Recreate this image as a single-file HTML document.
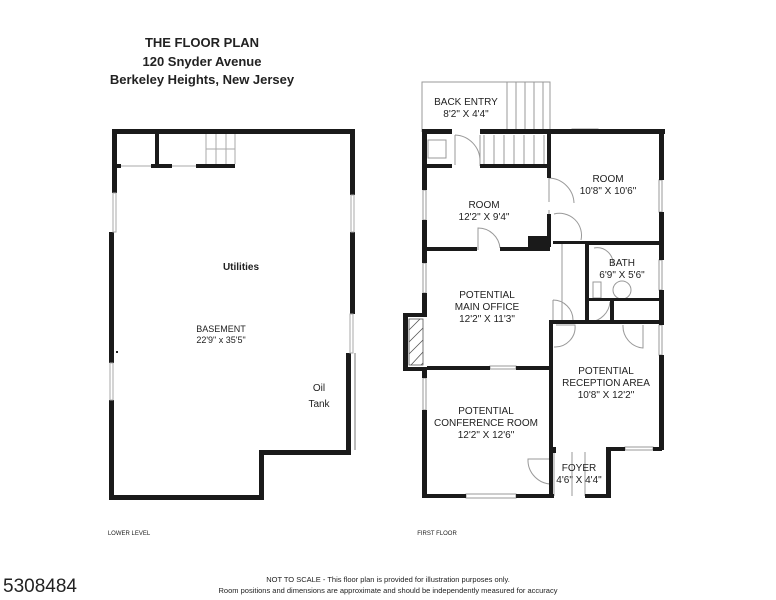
<!DOCTYPE html>
<html><head><meta charset="utf-8"><style>
html,body{margin:0;padding:0;background:#fff;}
svg{display:block;}
text{font-family:"Liberation Sans",sans-serif;fill:#222;}
</style></head><body>
<svg width="776" height="600" viewBox="0 0 776 600" xmlns="http://www.w3.org/2000/svg">
<g font-weight="bold" font-size="13" text-anchor="middle">
<text x="202" y="47">THE FLOOR PLAN</text>
<text x="202" y="66">120 Snyder Avenue</text>
<text x="202" y="84">Berkeley Heights, New Jersey</text>
</g>
<!-- BASEMENT -->
<g fill="#1a1a1a">
<rect x="112" y="129" width="243" height="5"/>
<rect x="112" y="129" width="5" height="64"/>
<rect x="109" y="232" width="5" height="131"/>
<rect x="109" y="400" width="5" height="100"/>
<rect x="109" y="495" width="155" height="5"/>
<rect x="259" y="450" width="5" height="50"/>
<rect x="259" y="450" width="92" height="5"/>
<rect x="346" y="353" width="5" height="102"/>
<rect x="350" y="129" width="5" height="66"/>
<rect x="350" y="232" width="5" height="82"/>
<rect x="155" y="132" width="4" height="35"/>
<rect x="117" y="164" width="4" height="4"/>
<rect x="151" y="164" width="21" height="4"/>
<rect x="196" y="164" width="39" height="4"/>
</g>
<g fill="none" stroke="#aaa" stroke-width="1">
<rect x="113" y="193" width="3" height="39"/>
<rect x="110" y="363" width="3" height="37"/>
<rect x="351" y="195" width="3" height="37"/>
<rect x="350" y="314" width="3" height="39"/>
<line x1="355" y1="353" x2="355" y2="450" stroke="#bbb" stroke-width="2"/>
<line x1="121" y1="166" x2="151" y2="166"/>
<line x1="172" y1="166" x2="196" y2="166"/>
<path d="M206 134V164M216 134V164M226 134V164M206 149H235M235 134V164"/>
</g>
<text x="241" y="270" font-size="10" font-weight="bold" text-anchor="middle">Utilities</text>
<text x="221" y="332" font-size="9" text-anchor="middle">BASEMENT</text>
<text x="221" y="343" font-size="9" text-anchor="middle">22'9" x 35'5"</text>
<text x="319" y="391" font-size="10" text-anchor="middle">Oil</text>
<text x="319" y="407" font-size="10" text-anchor="middle">Tank</text>
<rect x="116" y="351" width="2" height="2" fill="#222"/>

<!-- FIRST FLOOR -->
<g fill="none" stroke="#999" stroke-width="1">
<path d="M422 132V82H550V132"/>
<path d="M507 82V130M516 82V130M525 82V130M534 82V130M543 82V130"/>
<path d="M484 135V166M494 135V166M504 135V166M514 135V166M524 135V166M534 135V166M544 135V166"/>
<path d="M428 140H446V158H428Z"/>
<path d="M455 135V165M455 135A26 26 0 0 1 480 161M480 135V166"/>
<path d="M549 202V178A26 26 0 0 1 574 203M549 214V210M554 214A22 22 0 0 1 581 240"/>
<path d="M478 250V228A22 22 0 0 1 500 248"/>
<path d="M553 300V322M553 300A20 20 0 0 1 573 320"/>
<path d="M610 302A22 22 0 0 1 590 322"/>
<path d="M556 325H575A20 20 0 0 1 554 347"/>
<path d="M623 325A22 22 0 0 0 643 348V325"/>
<path d="M553 484A24 24 0 0 1 528 459H553"/>
<path d="M594 248A16 16 0 0 1 613 265"/>
<circle cx="622" cy="290" r="9"/>
<rect x="593" y="282" width="8" height="16"/>
<path d="M562 243V322"/>
<path d="M554 452V496M572 452V496M585 452V496"/>
<rect x="572" y="129" width="26" height="4"/>
<rect x="659" y="180" width="3" height="32"/>
<rect x="659" y="260" width="3" height="30"/>
<rect x="659" y="325" width="3" height="30"/>
<rect x="423" y="190" width="3" height="30"/>
<rect x="423" y="263" width="3" height="30"/>
<rect x="423" y="378" width="3" height="32"/>
<rect x="490" y="366" width="26" height="3"/>
<rect x="466" y="494" width="50" height="4"/>
<rect x="625" y="447" width="28" height="3"/>
</g>
<g fill="#1a1a1a">
<rect x="422" y="129" width="30" height="5"/>
<rect x="480" y="129" width="185" height="5"/>
<rect x="422" y="129" width="5" height="61"/>
<rect x="422" y="220" width="5" height="43"/>
<rect x="422" y="293" width="5" height="20"/>
<rect x="403" y="313" width="24" height="4"/>
<rect x="403" y="313" width="5" height="58"/>
<rect x="403" y="367" width="24" height="4"/>
<rect x="422" y="367" width="5" height="11"/>
<rect x="422" y="410" width="5" height="88"/>
<rect x="422" y="494" width="44" height="4"/>
<rect x="516" y="494" width="38" height="4"/>
<rect x="585" y="494" width="25" height="4"/>
<rect x="606" y="450" width="5" height="48"/>
<rect x="606" y="447" width="19" height="4"/>
<rect x="653" y="447" width="9" height="4"/>
<rect x="659" y="129" width="5" height="51"/>
<rect x="659" y="212" width="5" height="48"/>
<rect x="659" y="290" width="5" height="35"/>
<rect x="659" y="355" width="5" height="95"/>
<rect x="422" y="164" width="30" height="4"/>
<rect x="480" y="164" width="70" height="4"/>
<rect x="547" y="132" width="4" height="46"/>
<rect x="547" y="214" width="4" height="33"/>
<rect x="422" y="247" width="55" height="4"/>
<rect x="500" y="247" width="50" height="4"/>
<rect x="528" y="236" width="22" height="15"/>
<rect x="553" y="241" width="34" height="3"/>
<rect x="585" y="241" width="77" height="4"/>
<rect x="585" y="241" width="4" height="82"/>
<rect x="551" y="320" width="113" height="4"/>
<rect x="610" y="300" width="4" height="22"/>
<rect x="585" y="298" width="77" height="3"/>
<rect x="549" y="320" width="4" height="50"/>
<rect x="549" y="368" width="4" height="130"/>
<rect x="427" y="366" width="63" height="4"/>
<rect x="516" y="366" width="35" height="4"/>
<rect x="553" y="447" width="3" height="6"/>
</g>
<g stroke="#555" stroke-width="0.8">
<rect x="409" y="319" width="14" height="46" fill="none"/>
<path d="M409 330L420 319M409 342L423 328M409 354L423 340M411 365L423 352M421 365L423 363"/>
</g>
<g font-size="10" text-anchor="middle">
<text x="466" y="105">BACK ENTRY</text>
<text x="466" y="117">8'2" X 4'4"</text>
<text x="608" y="182">ROOM</text>
<text x="608" y="194">10'8" X 10'6"</text>
<text x="484" y="208">ROOM</text>
<text x="484" y="220">12'2" X 9'4"</text>
<text x="622" y="266">BATH</text>
<text x="622" y="278">6'9" X 5'6"</text>
<text x="487" y="298">POTENTIAL</text>
<text x="487" y="310">MAIN OFFICE</text>
<text x="487" y="322">12'2" X 11'3"</text>
<text x="606" y="374">POTENTIAL</text>
<text x="606" y="386">RECEPTION AREA</text>
<text x="606" y="398">10'8" X 12'2"</text>
<text x="486" y="414">POTENTIAL</text>
<text x="486" y="426">CONFERENCE ROOM</text>
<text x="486" y="438">12'2" X 12'6"</text>
<text x="579" y="471">FOYER</text>
<text x="579" y="483">4'6" X 4'4"</text>
</g>
<g font-size="6" fill="#777" text-anchor="middle">
<text x="129" y="535" fill="#777">LOWER LEVEL</text>
<text x="437" y="535" fill="#777">FIRST FLOOR</text>
</g>
<text x="3" y="592" font-size="19" fill="#111">5308484</text>
<text x="388" y="582" font-size="7.5" text-anchor="middle">NOT TO SCALE - This floor plan is provided for illustration purposes only.</text>
<text x="388" y="593" font-size="7.5" text-anchor="middle">Room positions and dimensions are approximate and should be independently measured for accuracy</text>
</svg>
</body></html>
